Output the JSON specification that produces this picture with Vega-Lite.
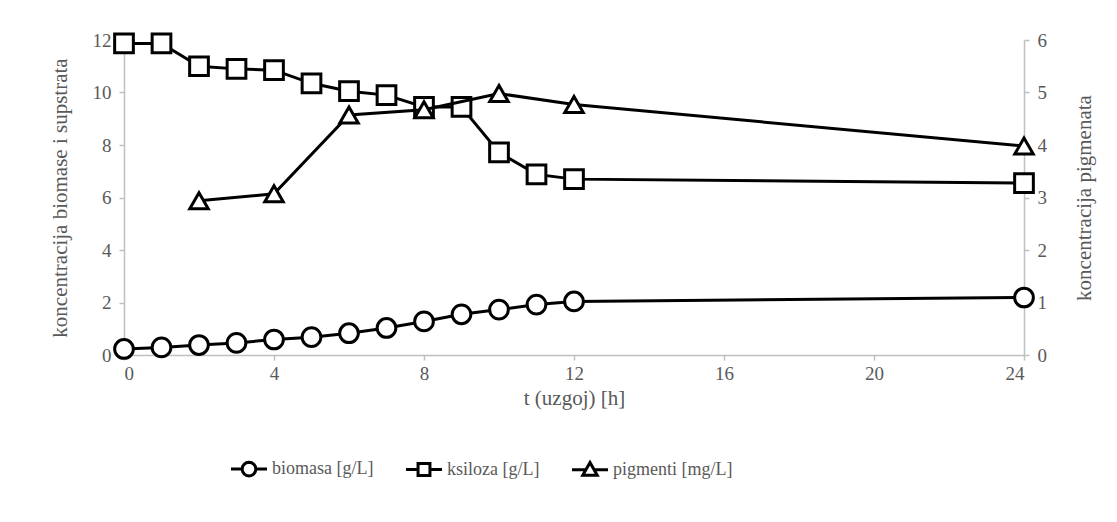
{
  "$schema": "https://vega.github.io/schema/vega-lite/v6.json",
  "width": 900,
  "height": 315,
  "autosize": {"type": "none"},
  "padding": {"left": 124, "top": 40, "right": 93, "bottom": 167},
  "background": "white",
  "config": {
    "font": "Liberation Serif",
    "view": {"stroke": null},
    "axis": {
      "domainColor": "#bfbfbf",
      "tickColor": "#bfbfbf",
      "domainWidth": 1.5,
      "tickWidth": 1.5,
      "labelColor": "#595959",
      "titleColor": "#595959",
      "labelFont": "Liberation Serif",
      "titleFont": "Liberation Serif",
      "labelFontSize": 19,
      "titleFontSize": 21,
      "titleFontWeight": "normal",
      "grid": false,
      "tickSize": 5
    },
    "legend": {
      "labelFont": "Liberation Serif",
      "labelFontSize": 18,
      "labelColor": "#595959"
    }
  },
  "data": {
    "values": [
      {"t": 0, "series": "biomasa [g/L]", "value": 0.23},
      {"t": 1, "series": "biomasa [g/L]", "value": 0.29},
      {"t": 2, "series": "biomasa [g/L]", "value": 0.38},
      {"t": 3, "series": "biomasa [g/L]", "value": 0.46},
      {"t": 4, "series": "biomasa [g/L]", "value": 0.59},
      {"t": 5, "series": "biomasa [g/L]", "value": 0.68},
      {"t": 6, "series": "biomasa [g/L]", "value": 0.83},
      {"t": 7, "series": "biomasa [g/L]", "value": 1.03},
      {"t": 8, "series": "biomasa [g/L]", "value": 1.28},
      {"t": 9, "series": "biomasa [g/L]", "value": 1.55},
      {"t": 10, "series": "biomasa [g/L]", "value": 1.73},
      {"t": 11, "series": "biomasa [g/L]", "value": 1.92},
      {"t": 12, "series": "biomasa [g/L]", "value": 2.04},
      {"t": 24, "series": "biomasa [g/L]", "value": 2.19},
      {"t": 0, "series": "ksiloza [g/L]", "value": 11.87},
      {"t": 1, "series": "ksiloza [g/L]", "value": 11.87},
      {"t": 2, "series": "ksiloza [g/L]", "value": 11.0},
      {"t": 3, "series": "ksiloza [g/L]", "value": 10.9},
      {"t": 4, "series": "ksiloza [g/L]", "value": 10.85},
      {"t": 5, "series": "ksiloza [g/L]", "value": 10.35},
      {"t": 6, "series": "ksiloza [g/L]", "value": 10.05},
      {"t": 7, "series": "ksiloza [g/L]", "value": 9.9},
      {"t": 8, "series": "ksiloza [g/L]", "value": 9.45},
      {"t": 9, "series": "ksiloza [g/L]", "value": 9.45},
      {"t": 10, "series": "ksiloza [g/L]", "value": 7.72},
      {"t": 11, "series": "ksiloza [g/L]", "value": 6.88},
      {"t": 12, "series": "ksiloza [g/L]", "value": 6.7},
      {"t": 24, "series": "ksiloza [g/L]", "value": 6.55},
      {"t": 2, "series": "pigmenti [mg/L]", "value": 2.94},
      {"t": 4, "series": "pigmenti [mg/L]", "value": 3.07},
      {"t": 6, "series": "pigmenti [mg/L]", "value": 4.57},
      {"t": 8, "series": "pigmenti [mg/L]", "value": 4.67},
      {"t": 10, "series": "pigmenti [mg/L]", "value": 4.98},
      {"t": 12, "series": "pigmenti [mg/L]", "value": 4.77},
      {"t": 24, "series": "pigmenti [mg/L]", "value": 3.98}
    ]
  },
  "encoding": {
    "x": {
      "field": "t", "type": "quantitative",
      "scale": {"domain": [0, 24], "nice": false, "zero": false},
      "axis": {"values": [0, 4, 8, 12, 16, 20, 24], "title": "t (uzgoj) [h]", "labelPadding": 4, "titlePadding": 4}
    }
  },
  "layer": [
    {
      "transform": [{"filter": "datum.series !== 'pigmenti [mg/L]'"}],
      "encoding": {
        "y": {
          "field": "value", "type": "quantitative",
          "scale": {"domain": [0, 12], "nice": false},
          "axis": {"values": [0, 2, 4, 6, 8, 10, 12], "title": "koncentracija biomase i supstrata", "labelPadding": 8, "titlePadding": 22}
        }
      },
      "layer": [
        {"mark": {"type": "line", "color": "black", "strokeWidth": 3}, "encoding": {"detail": {"field": "series"}}},
        {
          "transform": [{"filter": "datum.series === 'biomasa [g/L]'"}],
          "mark": {"type": "point", "shape": "circle", "filled": true, "fill": "white", "stroke": "black", "strokeWidth": 3, "size": 350, "opacity": 1}
        },
        {
          "transform": [{"filter": "datum.series === 'ksiloza [g/L]'"}],
          "mark": {"type": "point", "shape": "square", "filled": true, "fill": "white", "stroke": "black", "strokeWidth": 3, "size": 350, "opacity": 1}
        }
      ]
    },
    {
      "transform": [{"filter": "datum.series === 'pigmenti [mg/L]'"}],
      "encoding": {
        "y": {
          "field": "value", "type": "quantitative",
          "scale": {"domain": [0, 6], "nice": false},
          "axis": {"orient": "right", "values": [0, 1, 2, 3, 4, 5, 6], "title": "koncentracija pigmenata", "labelPadding": 8, "titlePadding": 27, "titleAngle": 270, "titleBaseline": "top"}
        }
      },
      "layer": [
        {"mark": {"type": "line", "color": "black", "strokeWidth": 3}, "encoding": {}},
        {"mark": {"type": "point", "shape": "triangle-up", "filled": true, "fill": "white", "stroke": "black", "strokeWidth": 3, "size": 340, "opacity": 1}}
      ]
    },
    {
      "transform": [{"filter": "datum.t < 0"}],
      "mark": {"type": "point", "filled": false, "color": "black", "strokeWidth": 3},
      "encoding": {
        "y": {"field": "value", "type": "quantitative", "scale": {"domain": [0, 12], "nice": false}, "axis": null},
        "shape": {
          "field": "series", "type": "nominal",
          "scale": {
            "domain": ["biomasa [g/L]", "ksiloza [g/L]", "pigmenti [mg/L]"],
            "range": [
              "M-1,0L-0.38,0M0.38,0L1,0M0.38,0L0.351,0.146L0.269,0.269L0.146,0.351L0,0.38L-0.146,0.351L-0.269,0.269L-0.351,0.146L-0.38,0L-0.351,-0.146L-0.269,-0.269L-0.146,-0.351L0,-0.38L0.146,-0.351L0.269,-0.269L0.351,-0.146Z",
              "M-1,0L-0.33,0M0.33,0L1,0M-0.33,-0.33L0.33,-0.33L0.33,0.33L-0.33,0.33Z",
              "M-1,0L-0.23,0M0.23,0L1,0M0,-0.4L0.4,0.3L-0.4,0.3Z"
            ]
          },
          "legend": {
            "orient": "none",
            "legendX": 105,
            "legendY": 409,
            "direction": "horizontal",
            "title": null,
            "symbolSize": 1300,
            "symbolStrokeWidth": 3,
            "symbolStrokeColor": "black",
            "symbolOpacity": 1,
            "labelOffset": 3,
            "columnPadding": 25
          }
        }
      }
    }
  ],
  "resolve": {"scale": {"y": "independent"}}
}
